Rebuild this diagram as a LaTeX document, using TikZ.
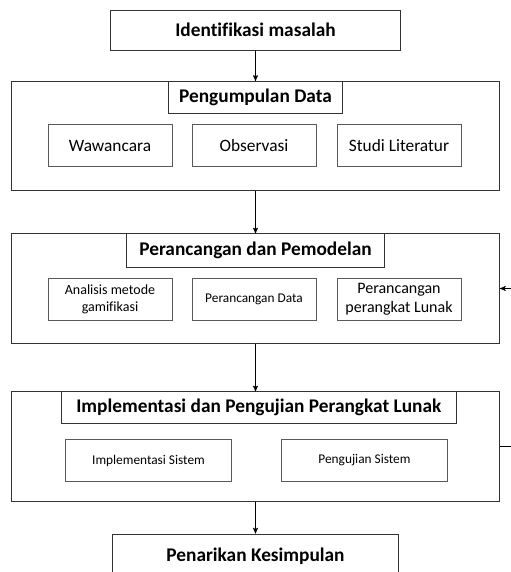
\documentclass[tikz,border=0pt]{standalone}
\usepackage{fontspec}
\setmainfont{Carlito}[Ligatures={NoCommon}]
\usepackage{tikz}
\usetikzlibrary{positioning}
\usetikzlibrary{arrows}
\tikzset{
tahap/.style={
  rectangle,
  inner sep=0pt,
  align=center,
  draw=black!80,
  fill=white,
  font=\bfseries\fontsize{14.5}{16}\selectfont
  },
wadah/.style={
  rectangle,
  inner sep=0pt,
  draw=black!80,
  minimum width=366pt,
  minimum height=82pt
  },
judul/.style={
  tahap,
  minimum height=24pt,
  anchor=north
  },
sub/.style={
  rectangle,
  inner sep=0pt,
  align=center,
  draw=black!65,
  minimum width=93pt,
  minimum height=32pt,
  font=\fontsize{13}{14}\selectfont
  },
kecil/.style={
  font=\fontsize{10}{12}\selectfont
  }
}

\begin{document}
\begin{tikzpicture}[x=0.75pt,y=-0.75pt,->,>=stealth',semithick]
            \useasboundingbox (0,0) rectangle (511,572);
            % tahap awal
            \node[tahap,minimum width=217pt,minimum height=30pt] (idm) at (255.5,30) {Identifikasi masalah};
            % pengumpulan data
            \node[wadah] (pd) at (255.5,136) {};
            \node[judul,minimum width=131pt] (pdj) at (pd.north) {Pengumpulan Data};
            \node[sub] (ww) at (110,145.5) {Wawancara};
            \node[sub] (ob) at (254,145.5) {Observasi};
            \node[sub] (sl) at (399,145.5) {Studi Literatur};
            % perancangan
            \node[wadah] (pp) at (255.5,288.5) {};
            \node[judul,minimum width=193pt,minimum height=25pt] (ppj) at (pp.north) {Perancangan dan Pemodelan};
            \node[sub,kecil,font=\fontsize{10.5}{12.5}\selectfont] (am) at (110,299.5) {Analisis metode\\gamifikasi};
            \node[sub,kecil] (pdt) at (254,299.5) {Perancangan Data};
            \node[sub,font=\fontsize{12}{14}\selectfont] (ppl) at (399,299.5) {Perancangan\\perangkat Lunak};
            % implementasi
            \node[wadah] (ip) at (255.5,446.5) {};
            \node[judul,minimum width=296pt] (ipj) at ([xshift=2.5pt]ip.north) {Implementasi dan Pengujian Perangkat Lunak};
            \node[sub,kecil,minimum width=124pt] (is) at (148.5,460.5) {Implementasi Sistem};
            \node[sub,kecil,minimum width=124pt] (ps) at (364.5,460.5) {Pengujian Sistem};
            % kesimpulan
            \node[tahap,minimum width=215pt,minimum height=33pt] (pk) at (255.5,556) {Penarikan Kesimpulan};
            \coordinate (balik) at (516,446.5);
            \path[->]
            (idm) edge (pdj)
            (pd) edge (ppj)
            (pp.south) edge (ip.north)
            (ip) edge (pk)
            ;
            \draw[->] (ip.east) -- (balik) |- (pp.east); %umpan balik
        \end{tikzpicture}
\end{document}
